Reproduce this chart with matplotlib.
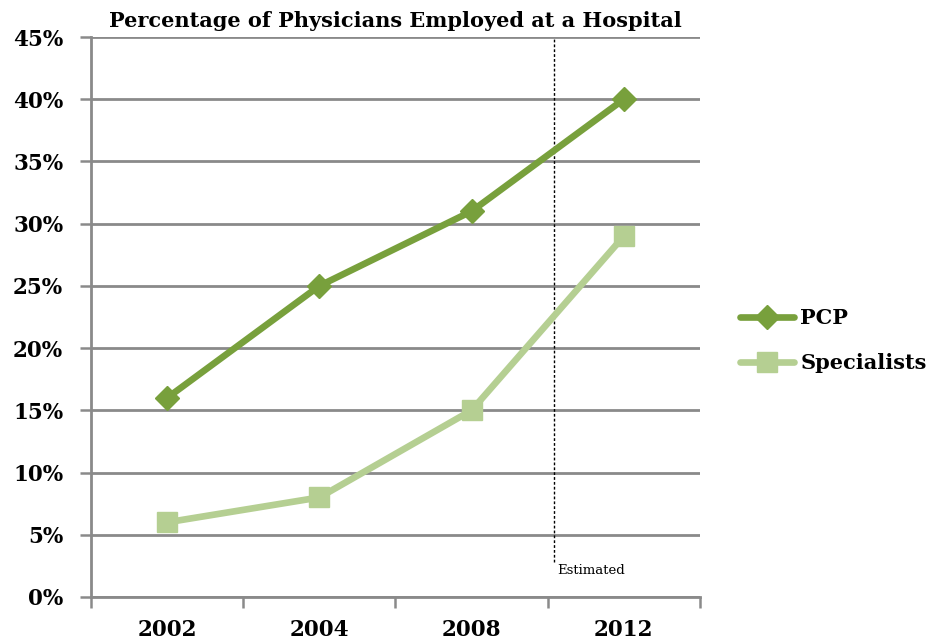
import matplotlib
matplotlib.use("Agg")
import matplotlib.pyplot as plt
from matplotlib.ticker import FuncFormatter

years = ["2002", "2004", "2008", "2012"]
pcp = [16, 25, 31, 40]
specialists = [6, 8, 15, 29]
yticks = [0, 5, 10, 15, 20, 25, 30, 35, 40, 45]

pcp_color = "#78A03C"
spec_color = "#B5CF92"
grid_color = "#8A8A8A"

fig = plt.figure(figsize=(9.45, 6.44), dpi=100)
ax = fig.add_axes([0.0963, 0.0730, 0.6444, 0.8695])

x = list(range(len(years)))
ax.plot(x, pcp, color=pcp_color, lw=4.8, marker="D", markersize=12,
        solid_capstyle="round", label="PCP", zorder=4)
ax.plot(x, specialists, color=spec_color, lw=4.8, marker="s", markersize=14,
        solid_capstyle="round", label="Specialists", zorder=4)

ax.set_xlim(-0.5, 3.5)
ax.set_ylim(0, 45)
ax.set_yticks(yticks)
ax.yaxis.set_major_formatter(FuncFormatter(lambda v, p: f"{int(v)}%"))
ax.set_xticks([i - 0.5 for i in range(len(years) + 1)])
ax.set_xticklabels([])
ax.set_xticks(x, minor=True)
ax.set_xticklabels(years, minor=True)
ax.tick_params(axis="x", which="minor", length=0, pad=16)
ax.tick_params(axis="x", which="major", length=8, width=1.8, color=grid_color)
ax.tick_params(axis="y", length=8, width=1.8, color=grid_color, pad=12)

ax.grid(axis="y", color=grid_color, lw=2.0, zorder=1)
ax.set_axisbelow(True)
for s in ["top", "right"]:
    ax.spines[s].set_visible(False)
for s in ["left", "bottom"]:
    ax.spines[s].set_color(grid_color)
    ax.spines[s].set_linewidth(2.0)

for lab in ax.get_yticklabels() + ax.get_xticklabels(minor=True):
    lab.set_fontfamily("DejaVu Serif")
    lab.set_fontweight("bold")
    lab.set_fontsize(15.5)

ax.axvline(2.54, ymin=2.8 / 45, ymax=1, color="black", lw=1.0, ls=(0, (2, 1.5)), zorder=3)
ax.text(2.56, 2.1, "Estimated", fontsize=9.5, family="DejaVu Serif", va="center", ha="left")

ax.set_title("Percentage of Physicians Employed at a Hospital",
             fontsize=15, fontweight="bold", family="DejaVu Serif", pad=7)

leg = ax.legend(loc="center left", bbox_to_anchor=(1.035, 0.458), frameon=False,
                handlelength=2.6, handletextpad=0.3, labelspacing=1.2,
                prop=dict(family="DejaVu Serif", weight="bold", size=15))

fig.savefig("out.png", dpi=100)
